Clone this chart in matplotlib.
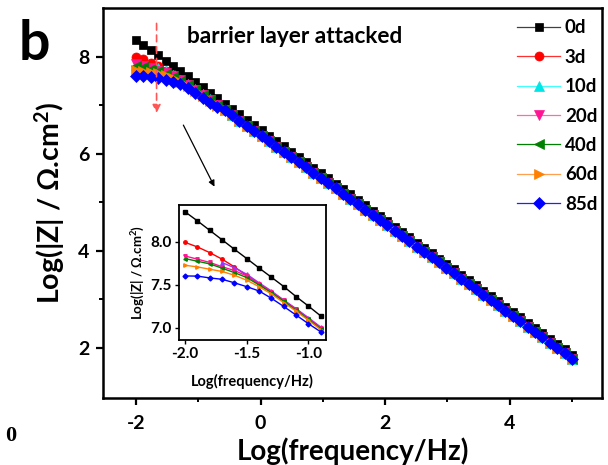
import numpy as np
import matplotlib
matplotlib.use("Agg")
import matplotlib.pyplot as plt

# ---------------- data ----------------
labels = ["0d", "3d", "10d", "20d", "40d", "60d", "85d"]

# main-plot frequency grid (log10 f), 60 points from -2 to 5
x_main = [-2.000, -1.881, -1.763, -1.644, -1.525, -1.407, -1.288, -1.169, -1.051, -0.932,
          -0.814, -0.695, -0.576, -0.458, -0.339, -0.220, -0.102, 0.017, 0.136, 0.254,
          0.373, 0.492, 0.610, 0.729, 0.847, 0.966, 1.085, 1.203, 1.322, 1.441,
          1.559, 1.678, 1.797, 1.915, 2.034, 2.153, 2.271, 2.390, 2.508, 2.627,
          2.746, 2.864, 2.983, 3.102, 3.220, 3.339, 3.458, 3.576, 3.695, 3.814,
          3.932, 4.051, 4.169, 4.288, 4.407, 4.525, 4.644, 4.763, 4.881, 5.000]

z_0d = [8.350, 8.245, 8.135, 8.025, 7.915, 7.807, 7.697, 7.590, 7.482, 7.365,
        7.255, 7.140, 7.030, 6.920, 6.810, 6.700, 6.590, 6.480, 6.370, 6.260,
        6.150, 6.040, 5.930, 5.820, 5.710, 5.600, 5.490, 5.380, 5.270, 5.160,
        5.050, 4.940, 4.830, 4.720, 4.610, 4.500, 4.390, 4.280, 4.170, 4.060,
        3.950, 3.840, 3.730, 3.620, 3.510, 3.400, 3.290, 3.180, 3.070, 2.960,
        2.850, 2.740, 2.630, 2.520, 2.410, 2.300, 2.190, 2.080, 1.970, 1.860]

# low-frequency part (first 12 points) of the aged samples
head_3d = [7.995, 7.942, 7.876, 7.800, 7.710, 7.610, 7.510, 7.415, 7.315, 7.215, 7.110, 7.005]
head_10d = [7.830, 7.800, 7.770, 7.760, 7.700, 7.625, 7.525, 7.430, 7.325, 7.225, 7.120, 7.010]
head_20d = [7.837, 7.800, 7.762, 7.712, 7.668, 7.605, 7.515, 7.420, 7.320, 7.215, 7.110, 7.000]
head_40d = [7.807, 7.776, 7.745, 7.695, 7.644, 7.586, 7.500, 7.410, 7.310, 7.205, 7.100, 6.990]
head_60d = [7.729, 7.710, 7.683, 7.657, 7.613, 7.555, 7.480, 7.395, 7.295, 7.195, 7.090, 6.980]
head_85d = [7.605, 7.603, 7.582, 7.566, 7.525, 7.480, 7.430, 7.345, 7.250, 7.150, 7.050, 6.955]

# high-frequency part (points 13..60), common to all aged samples
tail_aged = [6.895, 6.790, 6.683, 6.576, 6.469, 6.362, 6.255, 6.148, 6.040, 5.932,
             5.824, 5.716, 5.608, 5.500, 5.392, 5.284, 5.176, 5.068, 4.960, 4.851,
             4.742, 4.633, 4.524, 4.415, 4.306, 4.197, 4.088, 3.979, 3.870, 3.760,
             3.650, 3.540, 3.430, 3.320, 3.210, 3.100, 2.990, 2.880, 2.770, 2.660,
             2.550, 2.440, 2.330, 2.220, 2.110, 2.000, 1.890, 1.780]

# inset (zoom of the low-frequency region)
x_inset = [-2.0, -1.9, -1.8, -1.7, -1.6, -1.5, -1.4, -1.3, -1.2, -1.1, -1.0, -0.9]
inset_0d = z_0d[:12]
inset_10d = [np.nan, np.nan, np.nan, 7.760, 7.700, 7.625, 7.525, 7.430, 7.325, 7.225, 7.120, 7.010]

main_series = [z_0d, head_3d + tail_aged, head_10d + tail_aged, head_20d + tail_aged,
               head_40d + tail_aged, head_60d + tail_aged, head_85d + tail_aged]
inset_series = [inset_0d, head_3d, inset_10d, head_20d, head_40d, head_60d, head_85d]

# ---------------- style ----------------
markers = ["s", "o", "^", "v", "<", ">", "D"]
mcolors = ["#000000", "#FF0000", "#00E5E5", "#FF1493", "#008000", "#FF8000", "#0000FF"]
lcolors = ["#404040", "#FF3030", "#40FFFF", "#FF69B4", "#008000", "#FFA050", "#2020FF"]
inset_colors = ["#000000", "#FF0000", "#9933FF", "#FF1493", "#008000", "#FF8000", "#0000FF"]
msizes = [6, 6.5, 6.5, 6.5, 6.5, 6.5, 6]

plt.rcParams['font.family'] = ['Lato', 'DejaVu Sans']
plt.rcParams['font.weight'] = 'bold'
plt.rcParams['axes.unicode_minus'] = False
plt.rcParams['mathtext.fontset'] = 'custom'
plt.rcParams['mathtext.rm'] = 'Lato:bold'
plt.rcParams['mathtext.it'] = 'Lato:bold'
plt.rcParams['mathtext.bf'] = 'Lato:bold'

fig = plt.figure(figsize=(6.08, 4.65), dpi=100)
ax = fig.add_axes([0.1694, 0.1441, 0.8206, 0.8387])

handles = []
for s, lab, m, mc, lc, ms in zip(main_series, labels, markers, mcolors, lcolors, msizes):
    h, = ax.plot(x_main, s, color=lc, lw=0.9, marker=m, markersize=ms,
                 markerfacecolor=mc, markeredgecolor=mc, markeredgewidth=0.5, label=lab)
    handles.append(h)

ax.set_xlim(-2.53, 5.48)
ax.set_ylim(0.97, 9.0)
ax.set_xticks([-2, 0, 2, 4])
ax.set_xticks([-1, 1, 3, 5], minor=True)
ax.set_yticks([2, 4, 6, 8])
ax.set_yticks([3, 5, 7], minor=True)
ax.tick_params(which='major', direction='out', length=5, width=1.6, labelsize=14, pad=5)
ax.tick_params(axis='x', which='major', pad=7)
ax.tick_params(which='minor', direction='out', length=3, width=1.4)
for sp in ax.spines.values():
    sp.set_linewidth(1.8)
for t in ax.get_xticklabels() + ax.get_yticklabels():
    t.set_fontweight('bold')

ax.set_xlabel("Log(frequency/Hz)", fontsize=20, fontweight='bold', labelpad=4)
ax.set_ylabel("Log(|Z| / Ω.cm$^{2}$)", fontsize=20.5, fontweight='bold', labelpad=8)

leg = ax.legend(handles=handles, loc='upper left', bbox_to_anchor=(0.815, 0.99),
                frameon=False, handlelength=2.3, handletextpad=0.25,
                labelspacing=0.66, borderaxespad=0, prop={'weight': 'bold', 'size': 13.5})

ax.text(0.385, 0.928, "barrier layer attacked", transform=ax.transAxes, fontsize=16.3,
        fontweight='bold', ha='center', va='center')

# red dashed arrow and black arrow
ax.annotate("", xy=(-1.67, 6.78), xytext=(-1.67, 8.74),
            arrowprops=dict(arrowstyle='-|>', color='#FF5555', lw=1.2, ls=(0, (4, 3)),
                            mutation_scale=12))
ax.annotate("", xy=(-0.72, 5.27), xytext=(-1.26, 6.64),
            arrowprops=dict(arrowstyle='-|>', color='black', lw=0.9, mutation_scale=9))

fig.text(0.056, 0.905, "b", fontsize=40, fontweight='bold', ha='center', va='center')
fig.text(0.017, 0.062, "0", fontsize=16, fontweight='bold', family='Liberation Serif',
         ha='center', va='center')

# ---------------- inset ----------------
axi = fig.add_axes([0.2944, 0.2688, 0.2418, 0.2903])
for s, m, c in zip(inset_series, markers, inset_colors):
    axi.plot(x_inset, s, color=c, lw=1.0, marker=m, markersize=2.5,
             markerfacecolor=c, markeredgecolor=c)
axi.set_xlim(-2.05, -0.857)
axi.set_ylim(6.86, 8.43)
axi.set_xticks([-2.0, -1.5, -1.0])
axi.set_yticks([7.0, 7.5, 8.0])
axi.set_xticklabels(["-2.0", "-1.5", "-1.0"])
axi.set_yticklabels(["7.0", "7.5", "8.0"])
axi.tick_params(direction='out', length=3, width=1.0, labelsize=11, pad=2)
for sp in axi.spines.values():
    sp.set_linewidth(1.3)
for t in axi.get_xticklabels() + axi.get_yticklabels():
    t.set_fontweight('bold')
axi.set_xlabel("Log(frequency/Hz)", fontsize=10.5, fontweight='bold', labelpad=9)
axi.set_ylabel("Log(|Z| / Ω.cm$^{2}$)", fontsize=9.5, fontweight='bold', labelpad=3)

fig.savefig("out.png", dpi=100)
